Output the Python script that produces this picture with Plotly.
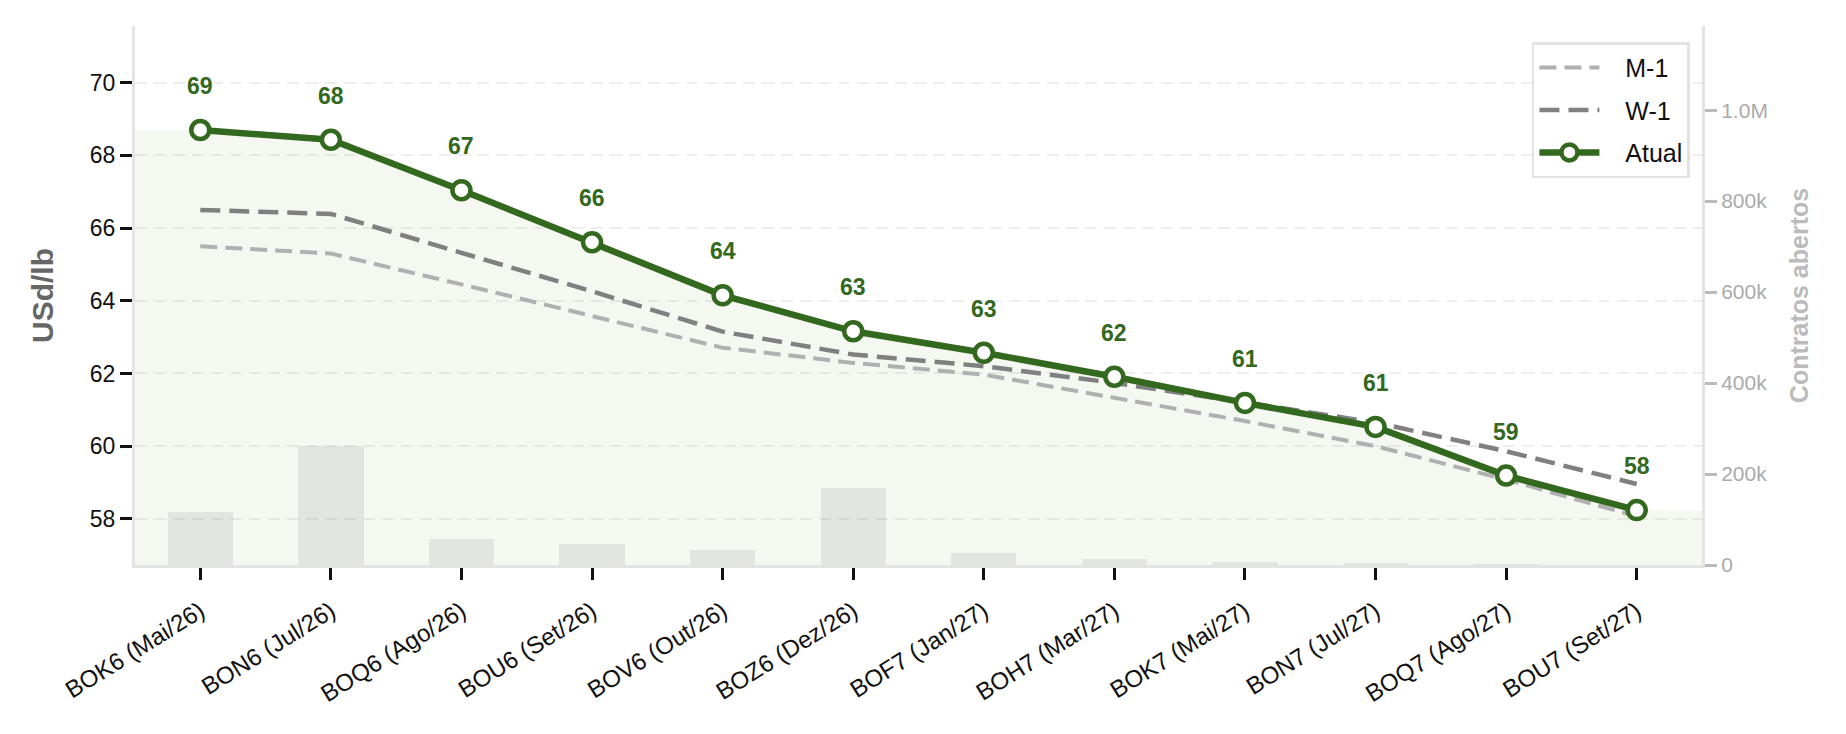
import plotly.graph_objects as go

contracts = ["BOK6 (Mai/26)", "BON6 (Jul/26)", "BOQ6 (Ago/26)", "BOU6 (Set/26)",
             "BOV6 (Out/26)", "BOZ6 (Dez/26)", "BOF7 (Jan/27)", "BOH7 (Mar/27)",
             "BOK7 (Mai/27)", "BON7 (Jul/27)", "BOQ7 (Ago/27)", "BOU7 (Set/27)"]
atual = [68.70, 68.43, 67.04, 65.61, 64.15, 63.16, 62.57, 61.91, 61.19, 60.53, 59.19, 58.24]
w1 = [66.50, 66.39, 65.32, 64.26, 63.15, 62.52, 62.20, 61.74, 61.20, 60.65, 59.86, 58.96]
m1 = [65.50, 65.30, 64.45, 63.58, 62.71, 62.29, 61.97, 61.33, 60.69, 60.00, 59.08, 58.07]
open_interest = [116000, 261000, 57000, 46000, 33000, 170000, 26000, 13000, 7000, 5000, 2000, 800]

y2_ticks = [0, 200000, 400000, 600000, 800000, 1000000]
y2_text = ["0", "200k", "400k", "600k", "800k", "1.0M"]
y_ticks = [58, 60, 62, 64, 66, 68, 70]

GREEN = "#33691e"
FONT = "Liberation Sans, Arial, sans-serif"
NB = "\u00a0"
idx = list(range(len(contracts)))

fig = go.Figure()

# light fill under current curve, extended to the plot edges
fig.add_trace(go.Scatter(
    x=[-0.5] + idx + [len(idx) - 0.5],
    y=[atual[0]] + atual + [atual[-1]],
    mode="lines", line=dict(width=0), fill="tozeroy",
    fillcolor="rgba(110,170,80,0.08)", showlegend=False, hoverinfo="skip"))

fig.add_trace(go.Bar(
    x=idx, y=open_interest, yaxis="y2", width=0.5,
    marker=dict(color="rgba(128,128,128,0.15)", line=dict(width=0)),
    showlegend=False, hoverinfo="skip"))

fig.add_trace(go.Scatter(
    x=idx, y=m1, mode="lines", name=NB * 3 + "M-1", legendgroup="m1",
    line=dict(color="#b0b0b0", width=4, dash="17px,8px")))
fig.add_trace(go.Scatter(
    x=idx, y=w1, mode="lines", name=NB * 3 + "W-1", legendgroup="w1",
    line=dict(color="#808080", width=4.5, dash="20px,9px")))
fig.add_trace(go.Scatter(
    x=idx, y=atual, mode="lines+markers", name=NB * 3 + "Atual", legendgroup="at",
    line=dict(color=GREEN, width=6.5),
    marker=dict(size=18, color="white", line=dict(color=GREEN, width=4.5))))

for i, v in zip(idx, atual):
    fig.add_annotation(x=i, y=v, text=f"<b>{v:.0f}</b>", showarrow=False,
                       yshift=44, font=dict(family=FONT, size=23, color=GREEN))

fig.update_layout(
    width=1846, height=734,
    margin=dict(l=135, r=144, t=26, b=169),
    paper_bgcolor="white", plot_bgcolor="white",
    font=dict(family=FONT, color="#111111"),
    bargap=0,
    xaxis=dict(
        range=[-0.5, len(idx) - 0.5], tickvals=idx, ticktext=contracts,
        tickangle=-32, tickfont=dict(size=24, color="#111111"),
        ticks="outside", ticklen=12, tickwidth=2.5, tickcolor="#111111",
        ticklabelstandoff=8,
        showline=True, linecolor="#e4e4e4", linewidth=3,
        showgrid=False, zeroline=False),
    yaxis=dict(
        range=[56.73, 71.56], tickvals=y_ticks,
        tickfont=dict(size=23, color="#111111"),
        ticks="outside", ticklen=12, tickwidth=2.5, tickcolor="#111111",
        showline=True, linecolor="#e4e4e4", linewidth=3,
        showgrid=True, gridcolor="#eeeeee", gridwidth=2, griddash="12px,7px",
        zeroline=False,
        title=dict(text="<b>USd/lb</b>", font=dict(size=30, color="#666666"), standoff=28)),
    yaxis2=dict(
        overlaying="y", side="right", range=[0, 1185000],
        tickvals=y2_ticks, ticktext=y2_text,
        tickfont=dict(size=21, color="#aaaaaa"),
        ticks="outside", ticklen=12, tickwidth=2.5, tickcolor="#bbbbbb",
        showline=True, linecolor="#e4e4e4", linewidth=3,
        showgrid=False, zeroline=False,
        title=dict(text="<b>Contratos abertos</b>", font=dict(size=25, color="#bbbbbb"), standoff=24)),
    legend=dict(
        x=0.9923, y=0.970, xanchor="right", yanchor="top",
        bgcolor="white", bordercolor="#e2e2e2", borderwidth=2.5,
        font=dict(size=25, color="#111111"), itemwidth=60,
        tracegroupgap=7),
)

fig.write_html("out.html")
